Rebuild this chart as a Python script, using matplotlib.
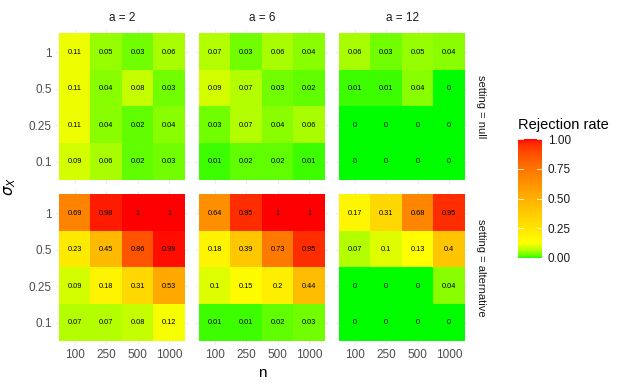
import numpy as np
import matplotlib
matplotlib.use("Agg")
import matplotlib.pyplot as plt
from matplotlib.colors import ListedColormap
from matplotlib.cm import ScalarMappable

plt.rcParams['font.family'] = ['Liberation Sans', 'DejaVu Sans']

# data
n_labels = ["100", "250", "500", "1000"]
sigma_labels = ["1", "0.5", "0.25", "0.1"]   # top to bottom
a_labels = ["a = 2", "a = 6", "a = 12"]
setting_labels = ["setting = null", "setting = alternative"]

null_a2 = [[0.11, 0.05, 0.03, 0.06],
           [0.11, 0.04, 0.08, 0.03],
           [0.11, 0.04, 0.02, 0.04],
           [0.09, 0.06, 0.02, 0.03]]
null_a6 = [[0.07, 0.03, 0.06, 0.04],
           [0.09, 0.07, 0.03, 0.02],
           [0.03, 0.07, 0.04, 0.06],
           [0.01, 0.02, 0.02, 0.01]]
null_a12 = [[0.06, 0.03, 0.05, 0.04],
            [0.01, 0.01, 0.04, 0],
            [0, 0, 0, 0],
            [0, 0, 0, 0]]
alt_a2 = [[0.69, 0.98, 1, 1],
          [0.23, 0.45, 0.86, 0.99],
          [0.09, 0.18, 0.31, 0.53],
          [0.07, 0.07, 0.08, 0.12]]
alt_a6 = [[0.64, 0.95, 1, 1],
          [0.18, 0.39, 0.73, 0.95],
          [0.1, 0.15, 0.2, 0.44],
          [0.01, 0.01, 0.02, 0.03]]
alt_a12 = [[0.17, 0.31, 0.68, 0.95],
           [0.07, 0.1, 0.13, 0.4],
           [0, 0, 0, 0.04],
           [0, 0, 0, 0]]

grid_values = [[null_a2, null_a6, null_a12],
               [alt_a2, alt_a6, alt_a12]]

# colour scale: green -> yellow -> red, interpolated in Lab like ggplot
stop_colors = [(0, 1, 0), (1, 1, 0), (1, 0, 0)]
stop_pos = [0.0, 0.125, 1.0]

M = np.array([[0.4124, 0.3576, 0.1805],
              [0.2126, 0.7152, 0.0722],
              [0.0193, 0.1192, 0.9505]])
white = M @ np.ones(3)


def to_lab(rgb):
    c = np.asarray(rgb, float)
    lin = np.where(c <= 0.04045, c / 12.92, ((c + 0.055) / 1.055) ** 2.4)
    xyz = (M @ lin) / white
    f = np.where(xyz > (6 / 29) ** 3, np.cbrt(xyz), xyz / (3 * (6 / 29) ** 2) + 4 / 29)
    return np.array([116 * f[1] - 16, 500 * (f[0] - f[1]), 200 * (f[1] - f[2])])


def from_lab(lab):
    L, a, b = lab
    fy = (L + 16) / 116
    f = np.array([fy + a / 500, fy, fy - b / 200])
    xyz = np.where(f > 6 / 29, f ** 3, 3 * (6 / 29) ** 2 * (f - 4 / 29)) * white
    lin = np.linalg.solve(M, xyz)
    lin = np.clip(lin, 0, 1)
    c = np.where(lin <= 0.0031308, 12.92 * lin, 1.055 * lin ** (1 / 2.4) - 0.055)
    return np.clip(c, 0, 1)


labs = [to_lab(c) for c in stop_colors]
cols = []
for t in np.linspace(0, 1, 256):
    i = 0 if t <= stop_pos[1] else 1
    u = (t - stop_pos[i]) / (stop_pos[i + 1] - stop_pos[i])
    cols.append(from_lab(labs[i] * (1 - u) + labs[i + 1] * u))
cmap = ListedColormap(cols)

W, H = 627, 389
fig = plt.figure(figsize=(W / 100, H / 100), dpi=100)


def px_axes(x0, y0, x1, y1):
    return fig.add_axes([x0 / W, 1 - y1 / H, (x1 - x0) / W, (y1 - y0) / H])


col_x = [(56, 188), (196, 328), (336, 468)]
row_y = [(30.3, 183.7), (191.3, 344.7)]
tick_grey = "#4D4D4D"

for r in range(2):
    for c in range(3):
        x0, x1 = col_x[c]
        y0, y1 = row_y[r]
        ax = px_axes(x0, y0, x1, y1)
        vals = np.array(grid_values[r][c], float)
        ax.imshow(vals, cmap=cmap, vmin=0, vmax=1, aspect='auto',
                  extent=(-0.5, 3.5, 3.5, -0.5), interpolation='nearest', zorder=2)
        for i in range(4):
            for j in range(4):
                ax.text(j, i, f"{vals[i, j]:g}", ha="center", va="center",
                        fontsize=5.3, color="black", zorder=3)
        ax.set_xlim(-0.6, 3.6)
        ax.set_ylim(3.6, -0.6)
        ax.set_xticks(range(4))
        ax.set_yticks(range(4))
        ax.grid(True, color="#EBEBEB", linewidth=0.8, zorder=0)
        ax.set_axisbelow(True)
        for s in ax.spines.values():
            s.set_visible(False)
        ax.tick_params(length=0, labelsize=8.5, labelcolor=tick_grey, pad=3)
        if r == 1:
            ax.set_xticklabels(n_labels)
        else:
            ax.set_xticklabels([])
        if c == 0:
            ax.set_yticklabels(sigma_labels)
        else:
            ax.set_yticklabels([])
        if r == 0:
            ax.set_title(a_labels[c], fontsize=8.5, color="#1A1A1A", pad=7)
        if c == 2:
            ax.text(1.06, 0.5, setting_labels[r], transform=ax.transAxes,
                    rotation=270, ha="left", va="center", fontsize=8, color="#1A1A1A")

fig.text(262 / W, 1 - 373 / H, "n", ha="center", va="center", fontsize=11)
fig.text(10 / W, 1 - 186 / H, r"$\sigma_X$", ha="center", va="center",
         fontsize=11, rotation=90)

# colour bar
cax = px_axes(518, 139, 542, 258)
cb = fig.colorbar(ScalarMappable(cmap=cmap, norm=plt.Normalize(0, 1)), cax=cax)
cb.outline.set_visible(False)
cb.set_ticks([0, 0.25, 0.5, 0.75, 1.0])
cb.set_ticklabels(["0.00", "0.25", "0.50", "0.75", "1.00"])
cax.tick_params(length=0, labelsize=8.5, labelcolor="#1A1A1A", pad=4)
for v in [0, 0.25, 0.5, 0.75, 1.0]:
    cax.plot([0, 0.2], [v, v], color="white", lw=0.6, transform=cax.get_yaxis_transform())
    cax.plot([0.8, 1], [v, v], color="white", lw=0.6, transform=cax.get_yaxis_transform())
fig.text(518 / W, 1 - 125 / H, "Rejection rate", ha="left", va="center", fontsize=10.5)

fig.savefig("out.png", dpi=100)
